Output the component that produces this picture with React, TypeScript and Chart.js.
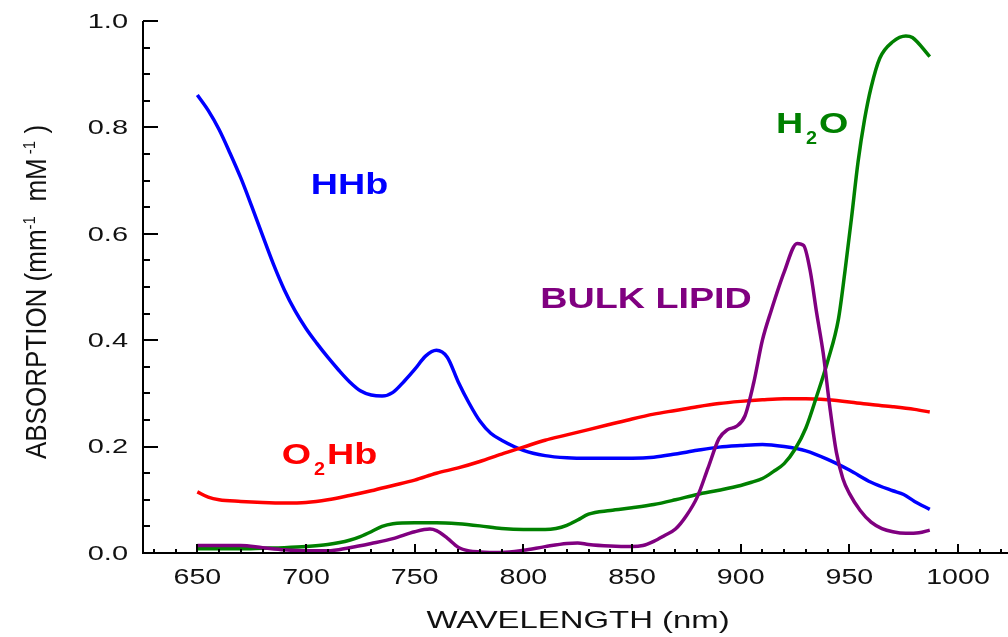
import React, { useEffect, useRef } from "react";
import { Chart, registerables } from "chart.js";

Chart.register(...registerables);

// ---------- data ----------
const hhbNm = [650, 655, 660, 665, 670, 675, 680, 685, 690, 695, 700, 705, 710, 715, 720, 725, 730, 735, 740, 745, 750, 755, 760, 765, 770, 775, 780, 785, 790, 800, 810, 820, 830, 840, 850, 860, 870, 880, 890, 900, 910, 920, 930, 940, 950, 960, 970, 975, 980, 987];
const hhbAbs = [0.861, 0.832, 0.796, 0.752, 0.705, 0.652, 0.597, 0.543, 0.495, 0.455, 0.422, 0.394, 0.368, 0.344, 0.322, 0.305, 0.297, 0.295, 0.302, 0.322, 0.345, 0.37, 0.381, 0.368, 0.322, 0.282, 0.248, 0.225, 0.212, 0.193, 0.183, 0.179, 0.178, 0.178, 0.178, 0.18, 0.186, 0.193, 0.199, 0.202, 0.204, 0.2, 0.192, 0.176, 0.156, 0.133, 0.117, 0.11, 0.097, 0.082];

const o2hbNm = [650, 655, 660, 670, 680, 690, 700, 710, 720, 730, 740, 750, 760, 770, 780, 790, 800, 810, 820, 830, 840, 850, 860, 870, 880, 890, 900, 910, 920, 930, 940, 950, 960, 970, 980, 987];
const o2hbAbs = [0.115, 0.105, 0.1, 0.097, 0.095, 0.094, 0.095, 0.1, 0.108, 0.117, 0.127, 0.137, 0.15, 0.16, 0.172, 0.186, 0.199, 0.212, 0.222, 0.232, 0.242, 0.252, 0.261, 0.268, 0.275, 0.281, 0.285, 0.288, 0.29, 0.29, 0.288, 0.284, 0.279, 0.275, 0.27, 0.265];

const waterNm = [650, 660, 670, 680, 690, 700, 710, 720, 725, 730, 735, 740, 750, 760, 770, 780, 790, 800, 810, 815, 820, 825, 830, 840, 850, 860, 870, 880, 890, 900, 905, 910, 915, 920, 925, 930, 935, 940, 945, 948, 951, 954, 957, 960, 964, 970, 976, 979, 987];
const waterAbs = [0.008, 0.008, 0.008, 0.009, 0.01, 0.012, 0.016, 0.024, 0.031, 0.04, 0.05, 0.055, 0.057, 0.057, 0.055, 0.051, 0.046, 0.044, 0.044, 0.046, 0.052, 0.062, 0.073, 0.08, 0.085, 0.091, 0.1, 0.11, 0.118, 0.127, 0.133, 0.14, 0.153, 0.168, 0.195, 0.235, 0.295, 0.36, 0.44, 0.53, 0.63, 0.735, 0.815, 0.875, 0.93, 0.961, 0.972, 0.969, 0.933];

const lipidNm = [650, 660, 670, 680, 690, 700, 710, 720, 730, 740, 750, 757, 760, 765, 770, 775, 780, 790, 800, 810, 820, 825, 830, 840, 850, 855, 860, 865, 870, 875, 880, 885, 890, 894, 898, 902, 906, 910, 914, 920, 926, 929, 932, 935, 938, 941, 944, 947, 950, 955, 960, 965, 970, 976, 982, 987];
const lipidAbs = [0.014, 0.014, 0.014, 0.01, 0.006, 0.004, 0.004, 0.01, 0.018, 0.027, 0.04, 0.045, 0.042, 0.028, 0.011, 0.004, 0.002, 0.001, 0.005, 0.012, 0.018, 0.019, 0.016, 0.013, 0.012, 0.014, 0.022, 0.033, 0.045, 0.07, 0.105, 0.16, 0.215, 0.232, 0.238, 0.258, 0.32, 0.4, 0.455, 0.528, 0.582, 0.578, 0.53, 0.45, 0.375, 0.275, 0.19, 0.14, 0.112, 0.08, 0.058, 0.046, 0.04, 0.037, 0.038, 0.043];

const xTickLabels = [650, 700, 750, 800, 850, 900, 950, 1000];
const yTickLabels = ["0.0", "0.2", "0.4", "0.6", "0.8", "1.0"];
const xTitle = "WAVELENGTH (nm)";

// series labels: text pieces (sub = subscript) and anchor in data units
const seriesLabels = [
  { parts: [{ t: "HHb" }], nm: 702.2, abs: 0.695, color: "#0000ff" },
  { parts: [{ t: "H" }, { t: "2", sub: true }, { t: "O" }], nm: 916.2, abs: 0.81, color: "#008000" },
  { parts: [{ t: "BULK LIPID" }], nm: 807.8, abs: 0.481, color: "#800080" },
  { parts: [{ t: "O" }, { t: "2", sub: true }, { t: "Hb" }], nm: 688.8, abs: 0.187, color: "#ff0000" },
];

const FONT = '"Liberation Sans", Arial, sans-serif';

function toPts(xs: number[], ys: number[]) {
  return xs.map((x, i) => ({ x, y: ys[i] }));
}

function drawStretched(ctx: CanvasRenderingContext2D, text: string, x: number, y: number, sx: number, align: "left" | "center" | "right") {
  const w = ctx.measureText(text).width * sx;
  let left = x;
  if (align === "center") left = x - w / 2;
  if (align === "right") left = x - w;
  ctx.save();
  ctx.translate(left, y);
  ctx.scale(sx, 1);
  ctx.textAlign = "left";
  ctx.fillText(text, 0, 0);
  ctx.restore();
}

const overlayPlugin = {
  id: "overlay",
  afterDraw(chart: any) {
    const ctx: CanvasRenderingContext2D = chart.ctx;
    const xs = chart.scales.x;
    const ys = chart.scales.y;
    const { left, right, top, bottom } = chart.chartArea;
    ctx.save();
    // axes
    ctx.strokeStyle = "#000";
    ctx.lineWidth = 2;
    ctx.beginPath();
    ctx.moveTo(left, top);
    ctx.lineTo(left, bottom);
    ctx.lineTo(right, bottom);
    ctx.stroke();
    // y ticks (inward)
    for (let i = 0; i <= 20; i++) {
      const py = Math.round(ys.getPixelForValue(i * 0.05));
      const len = i % 4 === 0 ? 15 : 7;
      ctx.beginPath();
      ctx.moveTo(left, py);
      ctx.lineTo(left + len, py);
      ctx.stroke();
    }
    // x ticks (inward)
    for (let nm = 630; nm <= 1020; nm += 10) {
      const px = Math.round(xs.getPixelForValue(nm));
      const len = nm % 50 === 0 ? 9 : 4;
      ctx.beginPath();
      ctx.moveTo(px, bottom);
      ctx.lineTo(px, bottom - len);
      ctx.stroke();
    }
    // tick labels
    ctx.fillStyle = "#111";
    ctx.textBaseline = "middle";
    ctx.font = `21px ${FONT}`;
    yTickLabels.forEach((lab) => {
      const py = ys.getPixelForValue(parseFloat(lab));
      drawStretched(ctx, lab, left - 15, py + 1, 1.38, "right");
    });
    ctx.textBaseline = "alphabetic";
    ctx.font = `22px ${FONT}`;
    xTickLabels.forEach((v) => {
      const px = xs.getPixelForValue(v);
      drawStretched(ctx, String(v), px, bottom + 31, 1.3, "center");
    });
    // x title
    ctx.font = `24px ${FONT}`;
    drawStretched(ctx, xTitle, 578, 628, 1.37, "center");
    // y title (rotated, with superscripts)
    const ySegs = [
      { t: "ABSORPTION (mm", size: 26, dy: 0 },
      { t: "-1", size: 15, dy: -10 },
      { t: "  mM", size: 26, dy: 0 },
      { t: " -1", size: 15, dy: -10 },
      { t: " )", size: 26, dy: 0 },
    ];
    let total = 0;
    ySegs.forEach((s) => {
      ctx.font = `${s.size}px ${FONT}`;
      total += ctx.measureText(s.t).width;
    });
    ctx.save();
    ctx.translate(36, 292);
    ctx.rotate(-Math.PI / 2);
    ctx.scale(1, 1.15);
    ctx.textBaseline = "alphabetic";
    ctx.textAlign = "left";
    let cx = -total / 2;
    ySegs.forEach((s) => {
      ctx.font = `${s.size}px ${FONT}`;
      ctx.fillText(s.t, cx, 9 + s.dy);
      cx += ctx.measureText(s.t).width;
    });
    ctx.restore();
    // series labels
    seriesLabels.forEach((lab) => {
      const px = xs.getPixelForValue(lab.nm);
      const py = ys.getPixelForValue(lab.abs);
      ctx.fillStyle = lab.color;
      ctx.textBaseline = "alphabetic";
      let cur = px;
      const sx = 1.3;
      lab.parts.forEach((p: any) => {
        if (p.sub) {
          ctx.font = `bold 18px ${FONT}`;
          cur += 3;
          ctx.save();
          ctx.translate(cur, py + 10.5 + 11);
          ctx.scale(1.1, 1);
          ctx.fillText(p.t, 0, 0);
          ctx.restore();
          cur += ctx.measureText(p.t).width * 1.1 + 2;
        } else {
          ctx.font = `bold 29px ${FONT}`;
          ctx.save();
          ctx.translate(cur, py + 10.5);
          ctx.scale(sx, 1);
          ctx.fillText(p.t, 0, 0);
          ctx.restore();
          cur += ctx.measureText(p.t).width * sx;
        }
      });
    });
    ctx.restore();
  },
};

export default function App() {
  const canvasRef = useRef<HTMLCanvasElement | null>(null);
  useEffect(() => {
    if (!canvasRef.current) return;
    const lineStyle = { borderWidth: 3.5, pointRadius: 0, fill: false, cubicInterpolationMode: "monotone" as const };
    const chart = new Chart(canvasRef.current, {
      type: "line",
      data: {
        datasets: [
          { label: "BULK LIPID", data: toPts(lipidNm, lipidAbs), borderColor: "#800080", ...lineStyle },
          { label: "H2O", data: toPts(waterNm, waterAbs), borderColor: "#008000", ...lineStyle },
          { label: "O2Hb", data: toPts(o2hbNm, o2hbAbs), borderColor: "#ff0000", ...lineStyle },
          { label: "HHb", data: toPts(hhbNm, hhbAbs), borderColor: "#0000ff", ...lineStyle },
        ],
      },
      options: {
        responsive: false,
        animation: false,
        parsing: false as any,
        layout: { padding: { left: 143, top: 21, right: 0, bottom: 84 } },
        plugins: { legend: { display: false }, tooltip: { enabled: false } },
        scales: {
          x: { type: "linear", min: 625, max: 1023, display: false },
          y: { type: "linear", min: 0, max: 1, display: false },
        },
      },
      plugins: [overlayPlugin],
    });
    return () => chart.destroy();
  }, []);
  return (
    <div style={{ position: "absolute", left: 0, top: 0, width: 1008, height: 637, background: "#fff" }}>
      <canvas ref={canvasRef} width={1008} height={637} style={{ display: "block" }} />
    </div>
  );
}
